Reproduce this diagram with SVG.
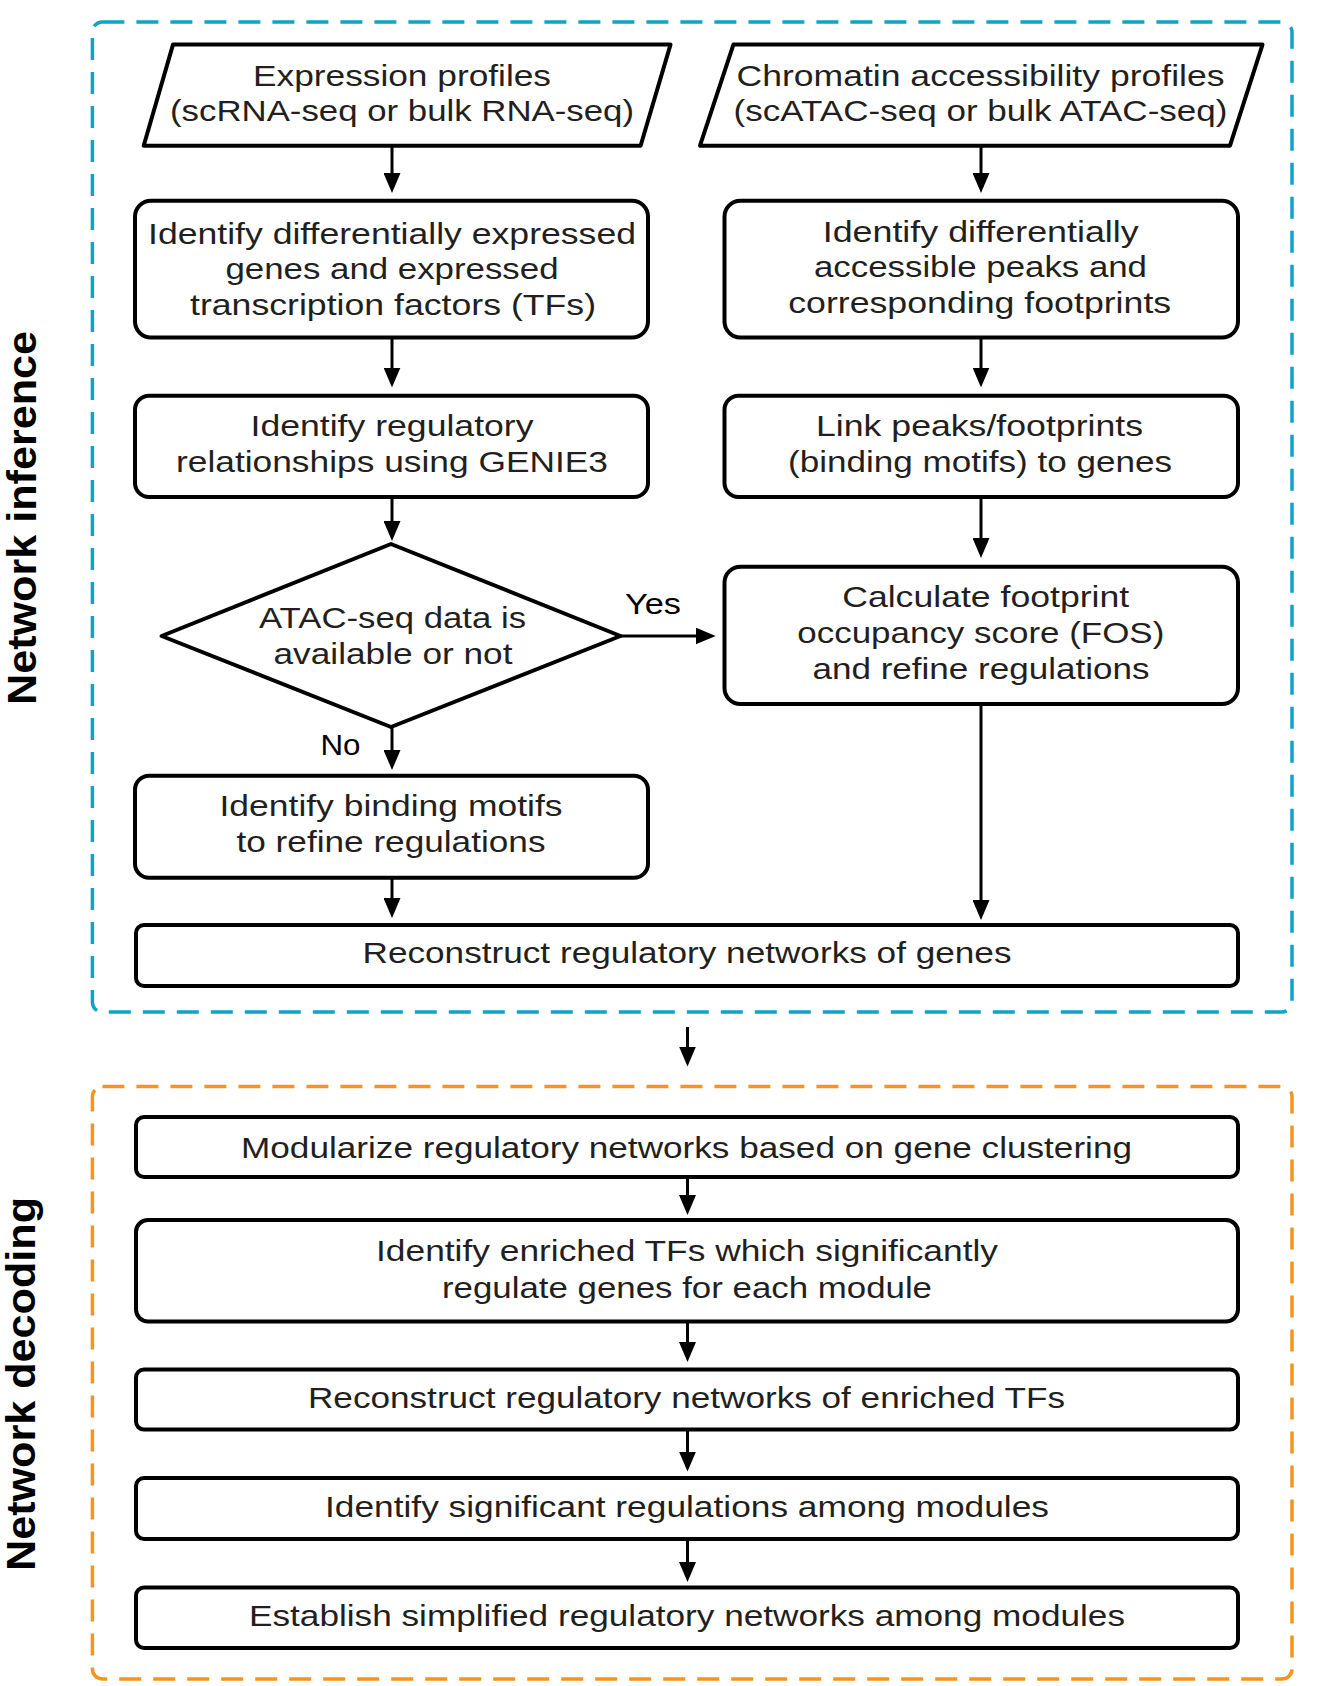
<svg xmlns="http://www.w3.org/2000/svg" width="1333" height="1686" viewBox="0 0 1333 1686">
<style>
.bg{fill:#ffffff}
.shape{fill:#ffffff;stroke:#000000;stroke-width:4;stroke-linejoin:round}
.dash-blue{fill:none;stroke:#0fa3c8;stroke-width:3.5;stroke-dasharray:22 12}
.dash-orange{fill:none;stroke:#f7941d;stroke-width:3.5;stroke-dasharray:22 12}
.t{font-family:"Liberation Sans",Arial,sans-serif;font-size:29px;fill:#231f20;text-anchor:middle}
.tb{font-family:"Liberation Sans",Arial,sans-serif;font-size:30px;fill:#231f20;text-anchor:middle}
.tl{font-family:"Liberation Sans",Arial,sans-serif;font-size:29px;fill:#000000}
.side{font-family:"Liberation Sans",Arial,sans-serif;font-size:41px;font-weight:bold;fill:#000000;text-anchor:middle}
.conn line{stroke:#000000;stroke-width:3;marker-end:url(#arr)}
</style>
<defs>
<marker id="arr" markerUnits="userSpaceOnUse" markerWidth="20" markerHeight="17" refX="10" refY="8.5" orient="auto">
<path d="M0,0 L20,8.5 L0,17 z" fill="#000000"/>
</marker>
</defs>
<rect class="bg" x="0" y="0" width="1333" height="1686"/>

<g id="section-inference">
<rect class="dash-blue" x="92.4" y="22" width="1199.6" height="990" rx="10"/>
<text class="side" transform="translate(35.5,518) rotate(-90)" textLength="374" lengthAdjust="spacingAndGlyphs">Network inference</text>
</g>
<g id="section-decoding">
<rect class="dash-orange" x="92.4" y="1086.6" width="1199.6" height="592.4" rx="10"/>
<text class="side" transform="translate(35,1384) rotate(-90)" textLength="374" lengthAdjust="spacingAndGlyphs">Network decoding</text>
</g>

<g id="expr-profiles">
<polygon class="shape" points="173,44.6 670.5,44.6 640.6,145.7 143.7,145.7"/>
<text class="t" x="402" y="86" textLength="298" lengthAdjust="spacingAndGlyphs">Expression profiles</text>
<text class="t" x="402" y="121" textLength="464" lengthAdjust="spacingAndGlyphs">(scRNA-seq or bulk RNA-seq)</text>
</g>
<g id="chrom-profiles">
<polygon class="shape" points="733.4,44.6 1262.5,44.6 1230,145.7 700,145.7"/>
<text class="t" x="980.5" y="86" textLength="488" lengthAdjust="spacingAndGlyphs">Chromatin accessibility profiles</text>
<text class="t" x="980.5" y="121" textLength="494" lengthAdjust="spacingAndGlyphs">(scATAC-seq or bulk ATAC-seq)</text>
</g>

<g id="deg">
<rect class="shape" x="135" y="200.7" width="513" height="136.8" rx="16"/>
<text class="t" x="392" y="244" textLength="488" lengthAdjust="spacingAndGlyphs">Identify differentially expressed</text>
<text class="t" x="392" y="279" textLength="333" lengthAdjust="spacingAndGlyphs">genes and expressed</text>
<text class="t" x="393" y="314.5" textLength="406" lengthAdjust="spacingAndGlyphs">transcription factors (TFs)</text>
</g>
<g id="dap">
<rect class="shape" x="724.5" y="200.7" width="513.5" height="136.8" rx="16"/>
<text class="t" x="980.7" y="242" textLength="316" lengthAdjust="spacingAndGlyphs">Identify differentially</text>
<text class="t" x="980.5" y="277" textLength="333" lengthAdjust="spacingAndGlyphs">accessible peaks and</text>
<text class="t" x="979.7" y="313" textLength="383" lengthAdjust="spacingAndGlyphs">corresponding footprints</text>
</g>

<g id="genie3">
<rect class="shape" x="135" y="395.7" width="513" height="101.3" rx="14"/>
<text class="t" x="392" y="436.4" textLength="283" lengthAdjust="spacingAndGlyphs">Identify regulatory</text>
<text class="t" x="392" y="472" textLength="432" lengthAdjust="spacingAndGlyphs">relationships using GENIE3</text>
</g>
<g id="link-peaks">
<rect class="shape" x="724.5" y="395.7" width="513.5" height="101.3" rx="14"/>
<text class="t" x="979.5" y="436.4" textLength="327" lengthAdjust="spacingAndGlyphs">Link peaks/footprints</text>
<text class="t" x="980" y="472" textLength="384" lengthAdjust="spacingAndGlyphs">(binding motifs) to genes</text>
</g>

<g id="atac-decision">
<polygon class="shape" points="391,544 620.5,636 391,727 161.6,636"/>
<text class="t" x="392.5" y="628.3" textLength="267" lengthAdjust="spacingAndGlyphs">ATAC-seq data is</text>
<text class="t" x="393" y="664" textLength="239" lengthAdjust="spacingAndGlyphs">available or not</text>
</g>

<g id="fos">
<rect class="shape" x="724.5" y="566.7" width="513.5" height="137.3" rx="16"/>
<text class="t" x="985.7" y="607.3" textLength="287" lengthAdjust="spacingAndGlyphs">Calculate footprint</text>
<text class="t" x="980.8" y="643.3" textLength="367" lengthAdjust="spacingAndGlyphs">occupancy score (FOS)</text>
<text class="t" x="981" y="679" textLength="337" lengthAdjust="spacingAndGlyphs">and refine regulations</text>
</g>

<g id="binding-motifs">
<rect class="shape" x="135" y="775.7" width="513" height="102" rx="14"/>
<text class="t" x="391" y="816" textLength="343" lengthAdjust="spacingAndGlyphs">Identify binding motifs</text>
<text class="t" x="391" y="851.7" textLength="309" lengthAdjust="spacingAndGlyphs">to refine regulations</text>
</g>

<g id="reconstruct-genes">
<rect class="shape" x="136" y="925" width="1102" height="61" rx="8"/>
<text class="t" x="687" y="963.3" textLength="649" lengthAdjust="spacingAndGlyphs">Reconstruct regulatory networks of genes</text>
</g>

<g id="modularize">
<rect class="shape" x="136" y="1117" width="1102" height="60" rx="8"/>
<text class="tb" x="686.5" y="1157.5" textLength="891" lengthAdjust="spacingAndGlyphs">Modularize regulatory networks based on gene clustering</text>
</g>
<g id="enriched-tfs">
<rect class="shape" x="136" y="1220" width="1102" height="101.5" rx="12"/>
<text class="tb" x="687" y="1261" textLength="622" lengthAdjust="spacingAndGlyphs">Identify enriched TFs which significantly</text>
<text class="tb" x="687" y="1297.5" textLength="490" lengthAdjust="spacingAndGlyphs">regulate genes for each module</text>
</g>
<g id="reconstruct-tfs">
<rect class="shape" x="136" y="1369.6" width="1102" height="60" rx="8"/>
<text class="tb" x="686.5" y="1407.7" textLength="757" lengthAdjust="spacingAndGlyphs">Reconstruct regulatory networks of enriched TFs</text>
</g>
<g id="significant">
<rect class="shape" x="136" y="1478" width="1102" height="61" rx="8"/>
<text class="tb" x="687" y="1517" textLength="724" lengthAdjust="spacingAndGlyphs">Identify significant regulations among modules</text>
</g>
<g id="simplified">
<rect class="shape" x="136" y="1587.5" width="1102" height="60.5" rx="8"/>
<text class="tb" x="687" y="1626" textLength="876" lengthAdjust="spacingAndGlyphs">Establish simplified regulatory networks among modules</text>
</g>

<g id="connectors" class="conn">
<line x1="392" y1="146" x2="392" y2="183"/>
<line x1="981" y1="146" x2="981" y2="183"/>
<line x1="392" y1="337.5" x2="392" y2="377.5"/>
<line x1="981" y1="337.5" x2="981" y2="377.5"/>
<line x1="392" y1="497" x2="392" y2="531"/>
<line x1="981" y1="497" x2="981" y2="548"/>
<line x1="620.5" y1="636" x2="705.6" y2="636"/>
<line x1="392" y1="727" x2="392" y2="760"/>
<line x1="392" y1="877.7" x2="392" y2="908"/>
<line x1="981" y1="704" x2="981" y2="910"/>
<line x1="687.5" y1="1027" x2="687.5" y2="1056.5"/>
<line x1="687.5" y1="1177" x2="687.5" y2="1205"/>
<line x1="687.5" y1="1321.5" x2="687.5" y2="1352"/>
<line x1="687.5" y1="1429.6" x2="687.5" y2="1461.6"/>
<line x1="687.5" y1="1539" x2="687.5" y2="1572"/>
</g>
<g id="labels">
<text class="tl" x="625" y="614" textLength="56" lengthAdjust="spacingAndGlyphs">Yes</text>
<text class="tl" x="320.5" y="755" textLength="40" lengthAdjust="spacingAndGlyphs">No</text>
</g>
</svg>
